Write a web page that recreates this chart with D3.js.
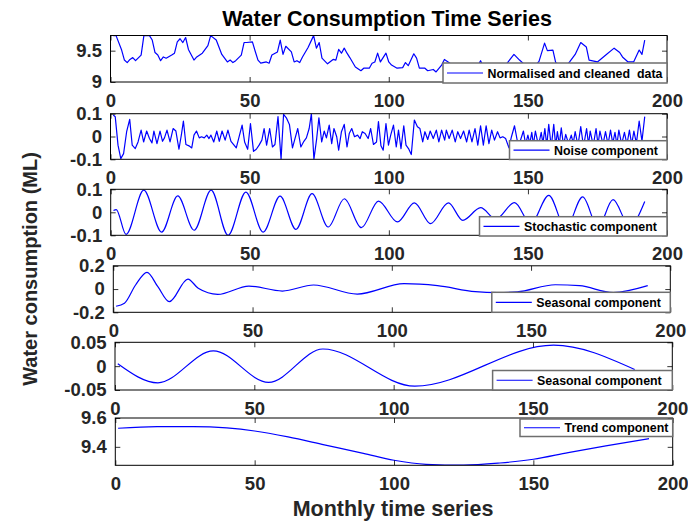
<!DOCTYPE html>
<html><head><meta charset="utf-8">
<script src="https://cdn.jsdelivr.net/npm/d3@7"></script>
<style>
body{margin:0;background:#fff}
svg text{font-family:"Liberation Sans",Arial,Helvetica,sans-serif;font-weight:bold}
</style>
</head><body>
<svg id="chart" width="688" height="522"></svg>
<script>
// ---------------- DATA ----------------
const xTicks = [0, 50, 100, 150, 200];

const normMonths = [1,2,4,5,6,7,8,9,11,12,14,15,16,17,18,19,20,22,23,24,25,26,27,28,30,31,33,35,36,38,40,42,43,44,45,47,48,49,51,52,53,54,56,57,58,60,61,62,63,65,66,67,68,69,71,73,74,75,76,78,80,81,82,83,84,85,86,88,90,91,93,94,95,96,97,99,100,101,103,105,106,107,109,110,111,113,114,116,117,119,120,122,124,126,128,130,132,133,134,136,138,140,142,145,147,149,151,153,154,156,157,159,160,162,164,165,167,169,171,172,175,178,181,183,184,186,188,190,191,192];
const normValues = [9.74,9.74,9.51,9.35,9.31,9.36,9.39,9.34,9.43,9.74,9.74,9.67,9.47,9.43,9.34,9.40,9.38,9.43,9.46,9.64,9.69,9.63,9.71,9.52,9.35,9.40,9.46,9.58,9.74,9.67,9.44,9.32,9.35,9.31,9.34,9.43,9.63,9.63,9.64,9.49,9.35,9.30,9.32,9.30,9.43,9.48,9.67,9.44,9.57,9.48,9.32,9.34,9.31,9.40,9.55,9.74,9.54,9.63,9.38,9.29,9.36,9.35,9.52,9.46,9.54,9.46,9.39,9.24,9.18,9.22,9.22,9.30,9.32,9.46,9.32,9.46,9.32,9.27,9.22,9.23,9.31,9.26,9.45,9.38,9.22,9.22,9.18,9.20,9.16,9.27,9.36,9.30,9.25,9.22,9.24,9.21,9.26,9.34,9.24,9.22,9.20,9.23,9.27,9.44,9.35,9.27,9.24,9.28,9.33,9.62,9.50,9.51,9.31,9.25,9.27,9.32,9.44,9.63,9.56,9.35,9.32,9.43,9.54,9.47,9.40,9.32,9.32,9.51,9.44,9.67];
const normYTicks = [9, 9.5];

const noiseMonths = [1,1.7,2.7,3.7,4.7,5.8,6.9,7.8,8.9,9.9,11,11.9,13,14,14.9,15.6,16.7,17.8,18.7,19.4,20.3,21.4,22.5,23.5,24.6,25.5,26.2,27.1,28.2,29.2,30,30.9,31.9,32.7,33.7,34.6,35.4,36.1,37.1,38.2,39.1,40.1,41.2,42.2,43.3,44.4,45.2,46.3,47.3,48.2,49.3,50.3,51.4,52.4,53.4,54.4,55.2,56.1,57.2,58.2,59.1,60.2,61.3,62.2,63.2,64.3,65.4,66.3,67.3,68.4,69.5,70.4,71.4,72.2,73.1,74.1,74.9,75.9,76.8,77.6,78.6,79.5,80.3,81.3,82,83,84,85,85.8,86.7,87.7,88.8,89.7,90.5,91.5,92.6,93.5,94.5,95.6,96.3,97.2,98,99,99.9,100.7,101.7,102.7,103.5,104.4,105.4,106.2,107.1,108.1,109.2,110.3,111.2,112.2,113,114,114.9,116,117.1,118,119,120.1,120.7,121.7,122.8,123.9,124.8,125.8,126.9,128,128.9,129.9,131,132,133,134,135,136,137,138,139.1,140,141,142,143.2,144.1,145.2,146.6,148.4,149.2,150,150.7,151.4,152,152.7,153.8,154.8,155.4,156.1,156.8,157.5,158.4,159.3,160,160.6,161.3,162,162.8,163.6,164.6,165.6,166.3,167,168,169,170,171.1,171.8,172.4,173.5,174.5,175.2,175.9,177,177.9,178.8,179.7,180.5,181.3,182,182.7,183.7,184.7,185.6,186.5,187.3,188.1,189,190,191,192];
const noiseValues = [0.094,0.087,-0.038,-0.097,-0.075,0.021,0.075,-0.038,-0.053,-0.024,0.028,-0.024,0.024,-0.009,-0.028,0.024,-0.031,0.024,-0.021,-0.006,0.028,-0.024,0.035,0.024,-0.056,0.009,0.068,-0.035,-0.041,-0.05,0.006,0.024,-0.006,-0.001,-0.006,0.006,-0.009,0.006,-0.024,0.024,-0.021,0.024,-0.016,0.028,-0.021,-0.038,-0.05,0.003,0.05,-0.024,-0.056,0.057,-0.065,-0.056,-0.038,-0.016,0.035,-0.038,0.035,-0.046,-0.035,0.087,-0.1,0.097,0.082,0.053,-0.05,-0.009,0.035,-0.046,-0.021,-0.006,0.035,0.1,-0.1,-0.009,0.082,-0.024,0.024,-0.006,0.05,-0.031,0.035,-0.001,-0.06,0.021,0.053,-0.046,0.013,0.035,-0.001,0.006,-0.009,0.021,0.013,-0.009,0.035,-0.035,-0.024,0.065,-0.041,-0.06,0.057,-0.038,0.006,0.05,-0.046,0.028,-0.053,0.047,-0.038,-0.053,-0.079,0.072,0.043,0.035,-0.024,0.021,-0.013,0.024,-0.009,0.028,-0.024,0.028,-0.016,0.028,-0.009,0.028,-0.024,0.021,-0.009,0.024,-0.024,0.028,-0.024,0.035,-0.038,0.047,-0.038,0.047,-0.031,0.028,-0.016,0.021,-0.006,-0.001,-0.009,-0.05,-0.001,0.047,-0.045,0.024,-0.035,0.006,-0.03,0.018,-0.035,0.024,-0.04,0.018,-0.03,0.035,-0.04,0.053,-0.045,0.053,-0.04,0.021,-0.035,0.038,-0.04,0.009,-0.03,0.006,-0.03,0.021,-0.04,0.043,-0.045,0.035,-0.035,0.024,-0.04,0.035,-0.035,0.024,-0.035,0.021,-0.035,0.028,-0.03,0.018,-0.035,0.028,-0.035,0.018,-0.035,0.028,-0.035,0.024,-0.03,0.068,-0.02,0.087];
const noiseYTicks = [-0.1, 0, 0.1];

const stochMonths = [1,2,5.5,11.9,18.3,24.1,30,36.1,42.2,48.6,54.8,60.9,66.6,72.4,78.2,84,90.1,96.3,103.1,109.2,115,121.4,126.6,133,138.4,145.2,151,157.5,163.6,169.7,175.2,180.6,186.5,192];
const stochValues = [0.008,0.012,-0.096,0.096,-0.086,0.071,-0.078,0.096,-0.1,0.088,-0.086,0.07,-0.074,0.081,-0.064,0.059,-0.067,0.049,-0.042,0.041,-0.049,0.041,-0.035,0.02,-0.03,0.042,-0.05,0.074,-0.07,0.067,-0.065,0.055,-0.06,0.047];
const stochYTicks = [-0.1, 0, 0.1];

const seasAMonths = [1,4,8,12.1,16,20.1,26.8,30.5,37.5,48.7,60.7,71.9,87.6,104.4,116.4,130,138,145,158.7,167.4,179.5,191.9];
const seasAValues = [-0.148,-0.122,0.035,0.144,0.02,-0.109,0.086,0.006,-0.046,0.026,-0.017,0.035,-0.043,0.046,0.029,-0.022,-0.03,-0.024,0.037,0.029,-0.03,0.029];
const seasAYTicks = [-0.2, 0, 0.2];

const seasBMonths = [1,15.4,35.3,55.1,74.6,107.6,157.4,186.5];
const seasBValues = [0.005,-0.035,0.032,-0.034,0.036,-0.042,0.044,-0.007];
const seasBYTicks = [-0.05, 0, 0.05];

const trendMonths = [1,15,28,40,50,62,75,89,100,111.5,125,138,150,162.5,176,191.5];
const trendValues = [9.529,9.540,9.540,9.531,9.51,9.469,9.414,9.355,9.307,9.279,9.273,9.288,9.314,9.36,9.407,9.457];
const trendYTicks = [9.4, 9.6];

const legendLabels = ["Normalised and cleaned  data","Noise component","Stochastic component","Seasonal component","Seasonal component","Trend component"];

// ---------------- LAYOUT ----------------
const panels = [
  {m:normMonths, v:normValues, yt:normYTicks, dom:[9,9.742], box:[110.5,667,35.5,82], leg:[443,63,667,83], curve:d3.curveLinear},
  {m:noiseMonths, v:noiseValues, yt:noiseYTicks, dom:[-0.1,0.1], box:[110.5,667,113.7,159.3], leg:[509.5,140.7,667,159.5], curve:d3.curveLinear},
  {m:stochMonths, v:stochValues, yt:stochYTicks, dom:[-0.1,0.1], box:[110.7,667,189.3,235.3], leg:[479.5,216.7,667,236], curve:d3.curveMonotoneX},
  {m:seasAMonths, v:seasAValues, yt:seasAYTicks, dom:[-0.2,0.2], box:[113.3,670.3,265.8,312.3], leg:[491.8,292.3,670.3,312.3], curve:d3.curveMonotoneX},
  {m:seasBMonths, v:seasBValues, yt:seasBYTicks, dom:[-0.05,0.05], box:[115,672.3,342.3,390], leg:[492.6,370.5,672.3,390], curve:d3.curveMonotoneX},
  {m:trendMonths, v:trendValues, yt:trendYTicks, dom:[9.272,9.6], box:[115.3,672.7,418,465.3], leg:[520,419,672.7,436.5], curve:d3.curveMonotoneX}
];

const svg = d3.select("#chart");
const TICK_FONT = 18.5, TXT = "#262626", BLUE = "#0000ff";

function styleAxis(g, withText){
  g.attr("font-family", null).attr("font-size", null);
  g.select(".domain").remove();
  g.selectAll(".tick line").attr("stroke", "#000").attr("stroke-width", 0.8);
  if (withText) g.selectAll(".tick text").attr("font-size", TICK_FONT).attr("fill", TXT);
  else g.selectAll(".tick text").remove();
}

panels.forEach((p, i) => {
  const [x0, x1, y0, y1] = p.box;
  const x = d3.scaleLinear().domain([0, 200]).range([x0, x1]);
  const y = d3.scaleLinear().domain(p.dom).range([y1, y0]);
  const g = svg.append("g");

  const cid = "clip" + i;
  g.append("clipPath").attr("id", cid).append("rect")
    .attr("x", x0).attr("y", y0).attr("width", x1 - x0).attr("height", y1 - y0);

  const pts = p.m.map((mm, k) => [mm, p.v[k]]);
  g.append("path").datum(pts)
    .attr("clip-path", `url(#${cid})`)
    .attr("fill", "none").attr("stroke", BLUE).attr("stroke-width", 1.2)
    .attr("stroke-linejoin", "round")
    .attr("d", d3.line().x(d => x(d[0])).y(d => y(d[1])).curve(p.curve));

  // axes (ticks inside, box on)
  g.append("g").attr("transform", `translate(0,${y1})`)
    .call(d3.axisBottom(x).tickValues(xTicks).tickSize(-5).tickSizeOuter(0).tickPadding(12).tickFormat(d3.format("d")))
    .call(a => styleAxis(a, true));
  g.append("g").attr("transform", `translate(0,${y0})`)
    .call(d3.axisTop(x).tickValues(xTicks).tickSize(-5).tickSizeOuter(0))
    .call(a => styleAxis(a, false));
  g.append("g").attr("transform", `translate(${x0},0)`)
    .call(d3.axisLeft(y).tickValues(p.yt).tickSize(-5).tickSizeOuter(0).tickPadding(8.5).tickFormat(d => String(d)))
    .call(a => styleAxis(a, true));
  g.append("g").attr("transform", `translate(${x1},0)`)
    .call(d3.axisRight(y).tickValues(p.yt).tickSize(-5).tickSizeOuter(0))
    .call(a => styleAxis(a, false));

  g.append("rect").attr("x", x0).attr("y", y0).attr("width", x1 - x0).attr("height", y1 - y0)
    .attr("fill", "none").attr("stroke", "#000").attr("stroke-width", 1);

  // legend
  const [lx0, ly0, lx1, ly1] = p.leg;
  const lg = svg.append("g");
  lg.append("rect").attr("x", lx0).attr("y", ly0).attr("width", lx1 - lx0).attr("height", ly1 - ly0)
    .attr("fill", "#fff").attr("stroke", "#6e6e6e").attr("stroke-width", 1.5);
  const cy = (ly0 + ly1) / 2;
  lg.append("line").attr("x1", lx0 + 4).attr("x2", lx0 + 40).attr("y1", cy).attr("y2", cy)
    .attr("stroke", BLUE).attr("stroke-width", 1.2);
  lg.append("text").attr("x", lx0 + 44.5).attr("y", cy + 4.5)
    .attr("font-size", 12.4).attr("fill", "#000").style("white-space", "pre").text(legendLabels[i]);
});

// titles
svg.append("text").attr("x", 387).attr("y", 26).attr("text-anchor", "middle")
  .attr("font-size", 21.5).attr("fill", "#000").text("Water Consumption Time Series");
svg.append("text").attr("transform", "translate(37,269) rotate(-90)").attr("text-anchor", "middle")
  .attr("font-size", 20).attr("fill", TXT).text("Water consumption (ML)");
svg.append("text").attr("x", 393).attr("y", 516).attr("text-anchor", "middle")
  .attr("font-size", 21.5).attr("fill", TXT).text("Monthly time series");
</script>
</body></html>
